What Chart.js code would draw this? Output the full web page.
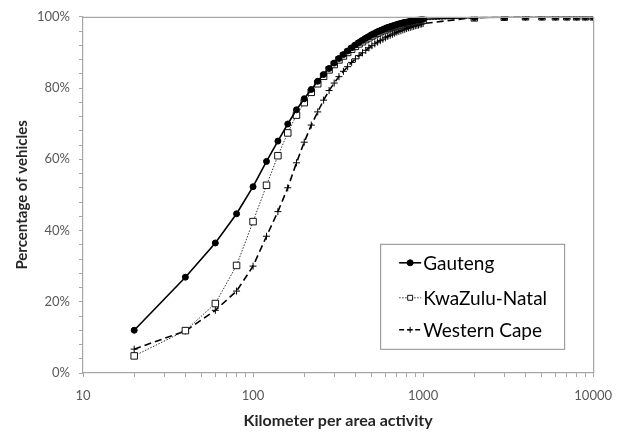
<!DOCTYPE html>
<html>
<head>
<meta charset="utf-8">
<script src="https://cdn.jsdelivr.net/npm/chart.js@4/dist/chart.umd.min.js"></script>
<style>
  html, body { margin: 0; padding: 0; background: #fff; }
  #wrap { width: 623px; height: 434px; position: relative; }
</style>
</head>
<body>
<div id="wrap"><canvas id="c" width="623" height="434"></canvas></div>
<script>
// ---- data ----
const kmValues = [20, 40, 60, 80, 100, 120, 140, 160, 180, 200,
  220, 240, 260, 280, 300, 320, 340, 360, 380, 400,
  420, 440, 460, 480, 500, 520, 540, 560, 580, 600,
  620, 640, 660, 680, 700, 720, 740, 760, 780, 800,
  820, 840, 860, 880, 900, 920, 940, 960, 980, 1000,
  2000, 3000, 4000, 5000, 6000, 7000, 8000, 9000, 10000];

const gauteng = [12.0, 26.9, 36.5, 44.7, 52.3, 59.4, 65.1, 69.9, 73.9, 77.0,
  79.6, 81.9, 83.8, 85.5, 87.0, 88.3, 89.4, 90.4, 91.3, 92.1,
  92.8, 93.4, 94.0, 94.5, 95.0, 95.4, 95.8, 96.1, 96.4, 96.7,
  97.0, 97.2, 97.4, 97.6, 97.8, 98.0, 98.1, 98.3, 98.4, 98.5,
  98.6, 98.7, 98.8, 98.9, 99.0, 99.1, 99.1, 99.2, 99.3, 99.3,
  99.8, 99.9, 100, 100, 100, 100, 100, 100, 100];

const kwazuluNatal = [4.8, 11.9, 19.5, 30.2, 42.5, 52.7, 61.0, 67.4, 72.4, 75.9,
  78.8, 81.2, 83.3, 85.1, 86.6, 87.9, 89.0, 90.0, 90.9, 91.7,
  92.4, 93.0, 93.6, 94.1, 94.6, 95.0, 95.4, 95.8, 96.1, 96.4,
  96.7, 96.9, 97.1, 97.3, 97.5, 97.7, 97.8, 98.0, 98.1, 98.2,
  98.3, 98.4, 98.5, 98.6, 98.7, 98.8, 98.9, 98.9, 99.0, 99.1,
  99.7, 99.9, 100, 100, 100, 100, 100, 100, 100];

const westernCape = [6.7, 11.8, 17.6, 23.0, 30.0, 38.4, 45.3, 52.0, 59.0, 64.8,
  69.6, 73.3, 76.6, 79.3, 81.4, 83.2, 84.7, 86.0, 87.2, 88.2,
  89.1, 89.9, 90.6, 91.3, 91.9, 92.4, 92.9, 93.3, 93.7, 94.1,
  94.5, 94.8, 95.1, 95.4, 95.7, 95.9, 96.1, 96.3, 96.5, 96.7,
  96.9, 97.0, 97.2, 97.3, 97.5, 97.6, 97.7, 97.9, 98.0, 98.1,
  99.8, 100, 100, 100, 100, 100, 100, 100, 100];

const seriesNames = ["Gauteng", "KwaZulu-Natal", "Western Cape"];

const xTickValues = [10, 20, 30, 40, 50, 60, 70, 80, 90,
  100, 200, 300, 400, 500, 600, 700, 800, 900,
  1000, 2000, 3000, 4000, 5000, 6000, 7000, 8000, 9000, 10000];
const xLabelValues = [10, 100, 1000, 10000];

const xTitle = "Kilometer per area activity";
const yTitle = "Percentage of vehicles";

// ---- build ----
const FONT = "Lato, 'Open Sans', sans-serif";
const toPts = (ys) => kmValues.map((x, i) => ({ x: x, y: ys[i] }));

const datasets = [
  { label: seriesNames[0], data: toPts(gauteng), borderColor: '#000', borderWidth: 1.6,
    pointStyle: 'circle', pointRadius: 3, pointBackgroundColor: '#000', pointBorderColor: '#000', pointBorderWidth: 1 },
  { label: seriesNames[1], data: toPts(kwazuluNatal), borderColor: '#333', borderWidth: 1, borderDash: [1.5, 1.5],
    pointStyle: 'rect', pointRadius: 4.6, pointBackgroundColor: '#fff', pointBorderColor: '#111', pointBorderWidth: 1 },
  { label: seriesNames[2], data: toPts(westernCape), borderColor: '#000', borderWidth: 1.6, borderDash: [7, 4],
    pointStyle: 'cross', pointRadius: 3.5, pointBackgroundColor: '#000', pointBorderColor: '#000', pointBorderWidth: 1 }
];

const frameAndLegend = {
  id: 'frameAndLegend',
  afterDatasetsDraw(chart) {
    const ctx = chart.ctx;
    const a = chart.chartArea;
    ctx.save();
    // plot frame (top and right sides)
    ctx.strokeStyle = '#a6a6a6';
    ctx.lineWidth = 1.2;
    ctx.beginPath();
    ctx.moveTo(a.left, a.top + 0.5);
    ctx.lineTo(a.right + 0.5, a.top + 0.5);
    ctx.lineTo(a.right + 0.5, a.bottom);
    ctx.stroke();

    // legend box
    const bx = a.right - 213, by = a.top + 227, bw = 184, bh = 105;
    ctx.fillStyle = '#fff';
    ctx.fillRect(bx, by, bw, bh);
    ctx.strokeStyle = '#8c8c8c';
    ctx.lineWidth = 1;
    ctx.strokeRect(bx + 0.5, by + 0.5, bw, bh);

    const rowY = [by + 19, by + 54, by + 86];
    const lineX0 = bx + 19, lineX1 = bx + 41;
    chart.data.datasets.forEach((ds, i) => {
      const y = rowY[i];
      ctx.save();
      ctx.strokeStyle = ds.borderColor;
      ctx.lineWidth = ds.borderWidth;
      ctx.setLineDash(i === 2 ? [5, 3] : (ds.borderDash || []));
      ctx.beginPath();
      ctx.moveTo(lineX0, y);
      ctx.lineTo(lineX1, y);
      ctx.stroke();
      ctx.restore();
      ctx.save();
      ctx.fillStyle = ds.pointBackgroundColor;
      ctx.strokeStyle = ds.pointBorderColor;
      ctx.lineWidth = 1;
      Chart.helpers.drawPoint(ctx, { pointStyle: ds.pointStyle, radius: ds.pointStyle === 'rect' ? 3.5 : 3, rotation: 0, borderWidth: 1 },
        (lineX0 + lineX1) / 2, y);
      ctx.restore();
      ctx.fillStyle = '#000';
      ctx.font = "19px " + FONT;
      ctx.textBaseline = 'middle';
      ctx.textAlign = 'left';
      ctx.fillText(ds.label, lineX1 + 2, y + 1);
    });
    ctx.restore();
  }
};

new Chart(document.getElementById('c'), {
  type: 'scatter',
  data: { datasets: datasets },
  options: {
    responsive: false,
    animation: false,
    showLine: true,
    layout: { padding: { top: 16, right: 26, left: 0, bottom: 0 } },
    plugins: { legend: { display: false }, tooltip: { enabled: false } },
    elements: { line: { tension: 0 } },
    scales: {
      x: {
        type: 'logarithmic',
        min: 10, max: 10000,
        afterFit(scale) { scale.height = 61; },
        afterBuildTicks(scale) { scale.ticks = xTickValues.map(v => ({ value: v })); },
        grid: { drawOnChartArea: false, drawTicks: true, tickLength: 4, color: '#a6a6a6', lineWidth: 1 },
        border: { color: '#a6a6a6', width: 1.2 },
        ticks: {
          autoSkip: false, maxRotation: 0, padding: 11,
          color: '#595959', font: { family: FONT, size: 13 },
          callback: (v) => xLabelValues.includes(v) ? String(v) : ''
        },
        title: { display: true, text: xTitle, color: '#262626',
          font: { family: FONT, size: 16, weight: 'bold' }, padding: { top: 0, bottom: 4 } }
      },
      y: {
        min: 0, max: 100,
        afterFit(scale) { scale.width = 83; },
        grid: { drawOnChartArea: false, drawTicks: true, tickLength: 4, color: '#a6a6a6', lineWidth: 1 },
        border: { color: '#a6a6a6', width: 1.2 },
        ticks: {
          stepSize: 4, autoSkip: false, padding: 9,
          color: '#595959', font: { family: FONT, size: 13 },
          callback: (v) => (v % 20 === 0) ? v + '%' : ''
        },
        title: { display: true, text: yTitle, color: '#262626',
          font: { family: FONT, size: 15, weight: 'bold' }, padding: { top: 13, bottom: 0 } }
      }
    }
  },
  plugins: [frameAndLegend]
});
</script>
</body>
</html>
